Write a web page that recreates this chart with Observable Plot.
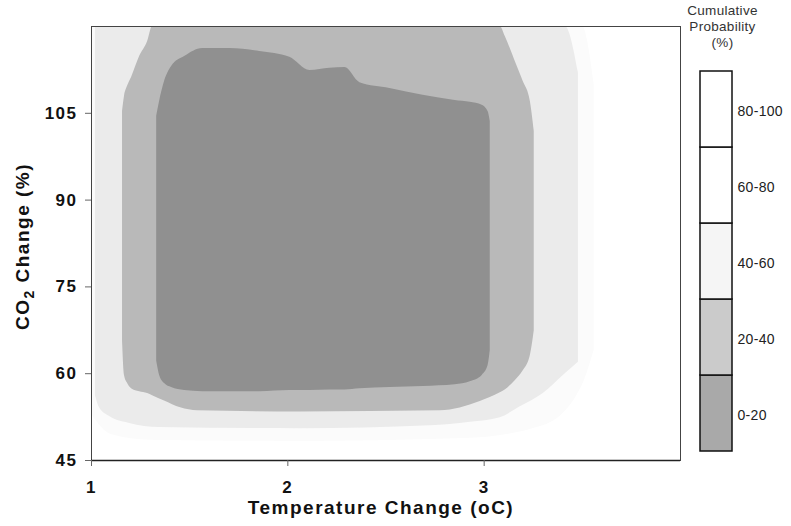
<!DOCTYPE html>
<html>
<head>
<meta charset="utf-8">
<script src="https://cdn.jsdelivr.net/npm/d3@7"></script>
<script src="https://cdn.jsdelivr.net/npm/@observablehq/plot@0.6"></script>
<style>
  body { margin: 0; background: #fff; }
  #wrap { position: relative; width: 791px; height: 526px; font-family: "Liberation Sans", Arial, sans-serif; }
  #wrap svg { position: absolute; top: 0; overflow: visible; }
  #wrap svg.main text { letter-spacing: 1.5px; }
  #wrap svg.leg text { letter-spacing: 0.3px; }
</style>
</head>
<body>
<div id="wrap"></div>
<script>
// ---- categories / colours ----
const bands = ["0-20", "20-40", "40-60", "60-80", "80-100"];
const chartFill = ["#909090", "#b9b9b9", "#ebebeb", "#fbfbfb", "#ffffff"];
const legendFill = ["#a9a9a9", "#cbcbcb", "#f5f5f5", "#ffffff", "#ffffff"];
const xTicks = [1, 2, 3];
const yTicks = [45, 60, 75, 90, 105];
const legendTitle = "Cumulative\nProbability\n(%)";
const xTitle = "Temperature Change (oC)";
const yTitle = "CO2 Change (%)";

// ---- contour bands: temperature change, CO2 change lower / upper bound ----
const temp6080 = [1.000, 1.100, 1.300, 2.000, 2.900, 3.300, 3.500, 3.560];
const lo6080   = [53.0, 49.5, 48.5, 48.3, 48.8, 51.0, 58.0, 64.0];
const hi6080   = [120, 120, 120, 120, 120, 120, 120, 110.0];

const temp4060 = [1.020, 1.041, 1.092, 1.194, 1.347, 2.061, 2.724, 2.929, 3.082, 3.184, 3.301, 3.413, 3.480];
const lo4060   = [56.2, 54.1, 52.6, 51.4, 50.7, 50.5, 51.0, 51.6, 52.4, 54.3, 56.6, 60.0, 62.0];
const hi4060   = [120, 120, 120, 120, 120, 120, 120, 120, 120, 120, 120, 120, 112.0];

const temp2040 = [1.158, 1.168, 1.184, 1.204, 1.245, 1.286, 1.311, 1.372, 1.454, 1.541, 2.061, 2.776, 2.980, 3.082, 3.107, 3.158, 3.199, 3.235, 3.255];
const lo2040   = [65.7, 59.7, 58.3, 57.4, 56.9, 56.6, 56.2, 55.3, 54.1, 53.6, 53.4, 53.6, 55.2, 56.7, 57.2, 58.8, 60.5, 63.1, 67.4];
const hi2040   = [105.3, 107.9, 109.7, 111.2, 114.8, 117.4, 120, 120, 120, 120, 120, 120, 120, 120, 118.3, 114.0, 110.5, 107.1, 101.9];

const temp0020 = [1.332, 1.347, 1.372, 1.408, 1.474, 1.566, 1.704, 1.857, 2.010, 2.112, 2.214, 2.291, 2.367, 2.520, 2.689, 2.852, 2.929, 2.990, 3.020, 3.031];
const lo0020   = [62.2, 59.7, 58.3, 57.6, 57.1, 56.9, 56.9, 56.9, 57.1, 57.1, 57.2, 57.2, 57.4, 57.6, 57.8, 58.1, 58.6, 59.7, 61.4, 64.0];
const hi0020   = [104.5, 107.1, 110.5, 113.1, 114.8, 116.2, 116.2, 115.7, 114.7, 112.4, 112.8, 112.9, 110.3, 109.3, 108.1, 107.2, 106.9, 106.4, 105.3, 103.6];

const rows = (xs, lo, hi) => xs.map((t, i) => ({ t, lo: lo[i], hi: hi[i] }));
const layers = [
  { band: "60-80", data: rows(temp6080, lo6080, hi6080) },
  { band: "40-60", data: rows(temp4060, lo4060, hi4060) },
  { band: "20-40", data: rows(temp2040, lo2040, hi2040) },
  { band: "0-20",  data: rows(temp0020, lo0020, hi0020) }
];

const chart = Plot.plot({
  className: "main",
  width: 791,
  height: 526,
  marginLeft: 91,
  marginRight: 111,
  marginTop: 26,
  marginBottom: 66,
  style: { fontFamily: "'Liberation Sans', Arial, sans-serif", background: "transparent" },
  x: { domain: [1, 4] },
  y: { domain: [45, 120] },
  marks: [
    ...layers.map(L => Plot.areaY(L.data, {
      x: "t", y1: "lo", y2: "hi",
      fill: chartFill[bands.indexOf(L.band)],
      curve: "monotone-x"
    })),
    Plot.frame({ stroke: "#444", strokeWidth: 1 }),
    Plot.ruleY([45], { stroke: "#222", strokeWidth: 1.6 }),
    Plot.axisX(xTicks, { tickSize: 6, tickPadding: 14, fontSize: 17, fontWeight: "bold", fill: "#111", stroke: "#666", label: null, tickFormat: d => d }),
    Plot.axisY(yTicks, { tickSize: 6, tickPadding: 8, fontSize: 17, fontWeight: "bold", fill: "#111", stroke: "#666", label: null, tickFormat: d => d }),
    Plot.text([xTitle], { frameAnchor: "bottom", dx: -5, dy: 47, textAnchor: "middle", lineAnchor: "middle", fontSize: 19, fontWeight: "bold", fill: "#111" }),
    Plot.text([yTitle], { frameAnchor: "left", dx: -69, dy: 3, rotate: -90, textAnchor: "middle", lineAnchor: "middle", fontSize: 19, fontWeight: "bold", fill: "#111" })
  ]
});
chart.style.left = "0px";

// subscript in the CO2 title
const yt = Array.from(chart.querySelectorAll("text")).find(t => t.textContent === yTitle);
if (yt) {
  const ns = "http://www.w3.org/2000/svg";
  while (yt.firstChild) yt.removeChild(yt.firstChild);
  yt.appendChild(document.createTextNode("CO"));
  const sub = document.createElementNS(ns, "tspan");
  sub.setAttribute("dy", "5");
  sub.setAttribute("font-size", "14");
  sub.textContent = "2";
  yt.appendChild(sub);
  const rest = document.createElementNS(ns, "tspan");
  rest.setAttribute("dy", "-5");
  rest.textContent = " Change (%)";
  yt.appendChild(rest);
}

const legendBands = bands.slice().reverse();
const legend = Plot.plot({
  className: "leg",
  width: 111,
  height: 526,
  margin: 0,
  style: { fontFamily: "'Liberation Sans', Arial, sans-serif", background: "transparent" },
  x: { domain: [0, 1], range: [20, 52], axis: null },
  y: { type: "band", domain: legendBands, range: [69, 453], padding: 0, axis: null },
  color: { type: "identity" },
  marks: [
    Plot.barX(bands, { x1: 0, x2: 1, y: d => d, fill: (d, i) => legendFill[i], stroke: "#111", strokeWidth: 1.5 }),
    Plot.text(bands, { x: 1, y: d => d, text: d => d, dx: 5, dy: 2, textAnchor: "start", fontSize: 14, fill: "#222" }),
    Plot.text([legendTitle], { frameAnchor: "top-left", dx: 42, dy: 3, textAnchor: "middle", lineAnchor: "top", lineHeight: 1.18, fontSize: 13.5, fill: "#333" })
  ]
});
legend.style.left = "680px";

const wrap = document.getElementById("wrap");
wrap.appendChild(chart);
wrap.appendChild(legend);
</script>
</body>
</html>
